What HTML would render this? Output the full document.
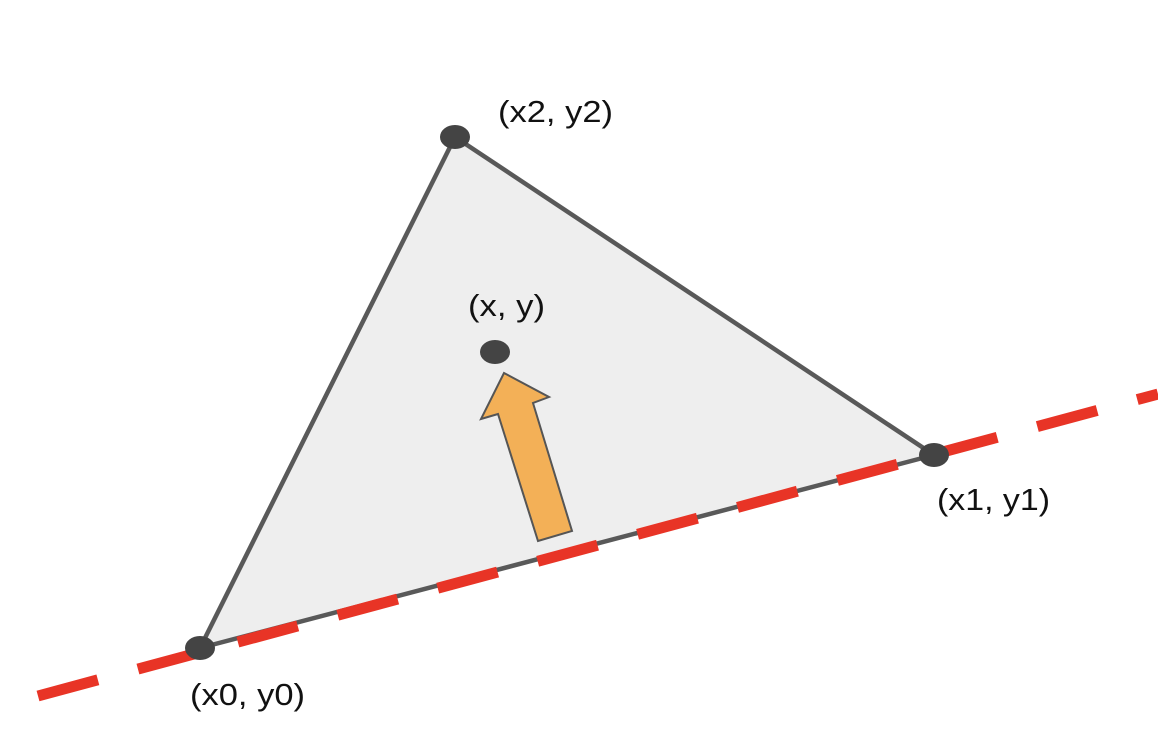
<!DOCTYPE html>
<html><head><meta charset="utf-8"><style>
html,body{margin:0;padding:0;background:#fff;}
svg{display:block;}
text{font-family:"Liberation Sans",Arial,sans-serif;font-size:31px;fill:#111;}
</style></head><body>
<svg width="1158" height="750" viewBox="0 0 1158 750">
  <polygon points="200,648 934,455 455,137" fill="#eeeeee" stroke="#595959" stroke-width="4.5" stroke-linejoin="round"/>
  <line x1="38" y1="696" x2="1158" y2="394" stroke="#e83426" stroke-width="11" stroke-dasharray="62 41.5"/>
  <polygon points="504,373 549,397 533,403 572,531 538,541 498,414 481,419" fill="#f3b057" stroke="#555" stroke-width="2" stroke-linejoin="miter"/>
  <ellipse cx="200" cy="648" rx="15" ry="12" fill="#444"/>
  <ellipse cx="934" cy="455" rx="15" ry="12" fill="#444"/>
  <ellipse cx="455" cy="137" rx="15" ry="12" fill="#444"/>
  <ellipse cx="495" cy="352" rx="15" ry="12" fill="#444"/>
  <text x="498" y="122" textLength="115" lengthAdjust="spacingAndGlyphs">(x2, y2)</text>
  <text x="468" y="316" textLength="77" lengthAdjust="spacingAndGlyphs">(x, y)</text>
  <text x="937" y="510" textLength="113" lengthAdjust="spacingAndGlyphs">(x1, y1)</text>
  <text x="190" y="705" textLength="115" lengthAdjust="spacingAndGlyphs">(x0, y0)</text>
</svg>
</body></html>
